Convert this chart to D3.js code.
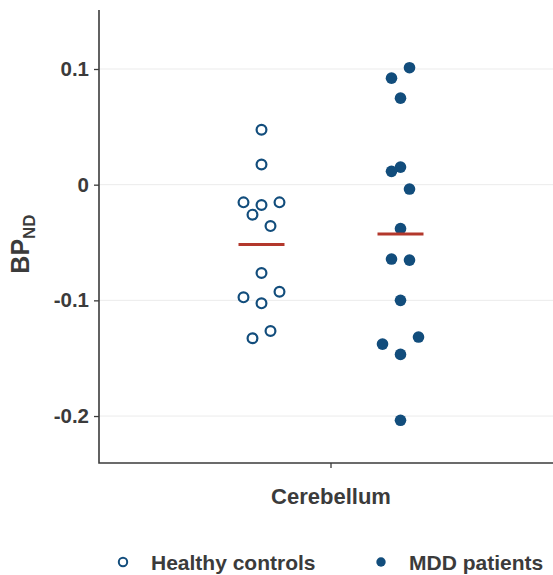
<!DOCTYPE html>
<html>
<head>
<meta charset="utf-8">
<script src="https://cdn.jsdelivr.net/npm/d3@7"></script>
<style>
  body { margin: 0; background: #fff; }
  text { font-family: "Liberation Sans", Arial, sans-serif; font-weight: bold; }
</style>
</head>
<body>
<div id="chart"></div>
<script>
// region on the x axis
const regions = ["Cerebellum"];
const groups = ["Healthy controls", "MDD patients"];

// BPND values, with the jitter slot of each point
const healthyValues = [0.0475, 0.0175, -0.0153, -0.0176, -0.0153, -0.0259, -0.0358,
  -0.0764, -0.0974, -0.0925, -0.1026, -0.1328, -0.1265];
const healthySlots = [0, 0, -2, 0, 2, -1, 1, 0, -2, 2, 0, -1, 1];

const mddValues = [0.1011, 0.0921, 0.0748, 0.0152, 0.0115, -0.0038, -0.038,
  -0.0643, -0.0652, -0.1, -0.1317, -0.1378, -0.1467, -0.2037];
const mddSlots = [1, -1, 0, 0, -1, 1, 0, -1, 1, 0, 2, -2, 0, 0];

const yTicks = [0.1, 0, -0.1, -0.2];
const yTickLabels = ["0.1", "0", "-0.1", "-0.2"];

const width = 553;
const height = 575;
const blue = "#124d7c";
const red = "#b3382c";
const ink = "#3b3b3b";

const series = [
  { group: groups[0], values: healthyValues, slots: healthySlots, filled: false },
  { group: groups[1], values: mddValues, slots: mddSlots, filled: true },
];

const svg = d3.select("#chart")
  .append("svg")
  .attr("width", width)
  .attr("height", height);

const y = d3.scaleLinear().domain([-0.2406, 0.151]).range([463, 10]);
const x = d3.scaleBand().domain(regions).range([99, 563]);
const dodge = d3.scalePoint().domain(groups).range([0, x.bandwidth()]).padding(1.169);
const jitter = d3.scaleLinear().domain([-2, 2]).range([-18, 18]);

/* Grid */
svg.append("g")
  .selectAll("line")
  .data(yTicks)
  .join("line")
  .attr("x1", 99)
  .attr("x2", width)
  .attr("y1", (d) => y(d))
  .attr("y2", (d) => y(d))
  .attr("stroke", "#ebebeb")
  .attr("stroke-width", 1);

/* Axes */
const yAxis = svg.append("g")
  .attr("transform", "translate(99,0)")
  .call(d3.axisLeft(y).tickValues(yTicks).tickFormat((d, i) => yTickLabels[i]).tickSize(5).tickPadding(5));
yAxis.select(".domain").remove();
yAxis.selectAll(".tick line").attr("stroke", ink).attr("stroke-width", 1.3);
yAxis.selectAll(".tick text")
  .attr("fill", ink)
  .style("font-size", "20.5px")
  .style("font-family", "Liberation Sans, Arial, sans-serif")
  .style("font-weight", "bold");

const xAxis = svg.append("g")
  .attr("transform", "translate(0,463)")
  .call(d3.axisBottom(x).tickSize(5).tickPadding(20));
xAxis.select(".domain").remove();
xAxis.selectAll(".tick line").attr("stroke", ink).attr("stroke-width", 1.3);
xAxis.selectAll(".tick text")
  .attr("fill", ink)
  .style("font-size", "22px")
  .style("font-family", "Liberation Sans, Arial, sans-serif")
  .style("font-weight", "bold");

svg.append("path")
  .attr("d", `M99,10V463H${width}`)
  .attr("fill", "none")
  .attr("stroke", ink)
  .attr("stroke-width", 1.6);

/* Points */
series.forEach((s) => {
  const cx = x(regions[0]) + dodge(s.group);
  svg.append("g")
    .selectAll("circle")
    .data(s.values)
    .join("circle")
    .attr("cx", (d, i) => cx + jitter(s.slots[i]))
    .attr("cy", (d) => y(d))
    .attr("r", s.filled ? 5.8 : 4.9)
    .attr("fill", s.filled ? blue : "#fff")
    .attr("stroke", blue)
    .attr("stroke-width", s.filled ? 0 : 2.2);

  const m = d3.mean(s.values);
  svg.append("line")
    .attr("x1", cx - 23)
    .attr("x2", cx + 23)
    .attr("y1", y(m))
    .attr("y2", y(m))
    .attr("stroke", red)
    .attr("stroke-width", 3);
});

/* Y label */
const yLabel = svg.append("text")
  .attr("transform", "translate(29,244) rotate(-90)")
  .attr("text-anchor", "middle")
  .attr("fill", ink)
  .style("font-size", "25px");
yLabel.append("tspan").text("BP");
yLabel.append("tspan").attr("dy", 6).style("font-size", "17px").text("ND");

/* Legend */
const legend = svg.append("g").attr("transform", "translate(0,562)");
const legendX = [123, 381];
series.forEach((s, i) => {
  legend.append("circle")
    .attr("cx", legendX[i])
    .attr("cy", 0)
    .attr("r", s.filled ? 4.7 : 4.2)
    .attr("fill", s.filled ? blue : "#fff")
    .attr("stroke", blue)
    .attr("stroke-width", s.filled ? 0 : 2);
  legend.append("text")
    .attr("x", legendX[i] + 28)
    .attr("y", 0)
    .attr("dy", "0.36em")
    .attr("fill", ink)
    .style("font-size", "21px")
    .text(s.group);
});
</script>
</body>
</html>
